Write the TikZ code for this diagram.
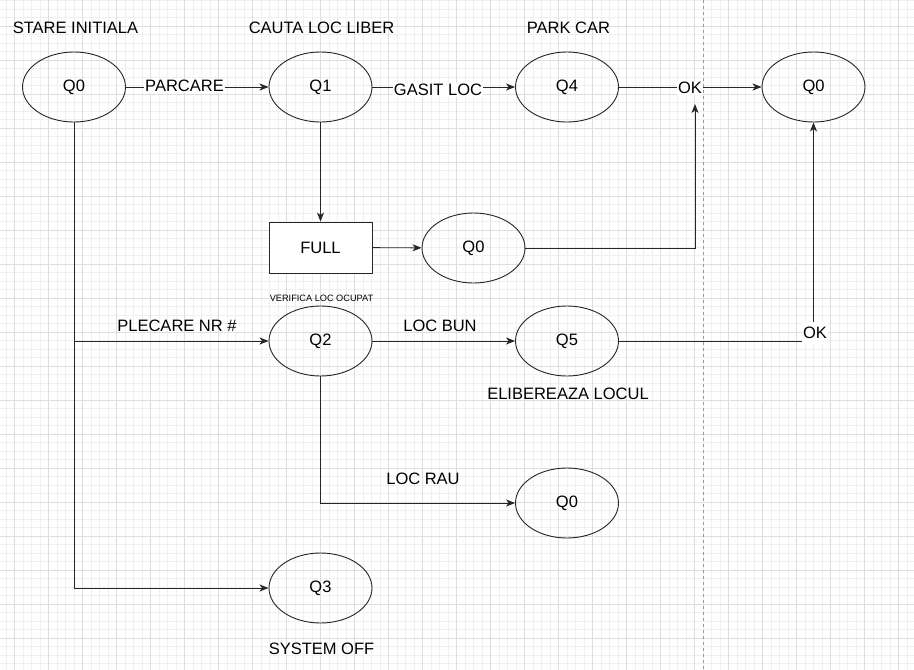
\documentclass[tikz,border=0pt]{standalone}
\usepackage{fontspec}
\setmainfont{Liberation Sans}
\usetikzlibrary{arrows.meta,shapes.geometric}
\begin{document}
\begin{tikzpicture}[x=1pt,y=-1pt,
  state/.style={draw=black!85,line width=0.9pt,ellipse,minimum width=103pt,minimum height=70pt,inner sep=0pt,font=\fontsize{16.5}{19}\selectfont},
  boxst/.style={draw=black!85,line width=0.9pt,rectangle,minimum width=103pt,minimum height=51pt,inner sep=0pt,fill=white,font=\fontsize{16.5}{19}\selectfont},
  lbl/.style={font=\fontsize{16.5}{19}\selectfont,text height=11.8pt,text depth=0pt,inner sep=1pt},
  wlbl/.style={lbl,fill=white},
  tiny/.style={font=\fontsize{9.2}{11}\selectfont,text height=6.6pt,text depth=0pt,inner sep=1pt},
  conn/.style={draw=black!85,line width=0.9pt},
  arr/.style={conn,-{Stealth[length=9pt,width=7pt,inset=2.5pt]}},
  minorg/.style={draw=black!6,line width=0.6pt},
  majorg/.style={draw=black!13,line width=0.8pt}]
\useasboundingbox (0,0) rectangle (914,670);
\fill[white] (0,0) rectangle (914,670);
% grid
\foreach \i in {0,...,106} {\draw[minorg] (6.2+8.5*\i,0) -- (6.2+8.5*\i,670);}
\foreach \i in {0,...,78} {\draw[minorg] (0,0.5+8.5*\i) -- (914,0.5+8.5*\i);}
\foreach \i in {0,...,26} {\draw[majorg] (14.7+34*\i,0) -- (14.7+34*\i,670);}
\foreach \i in {0,...,18} {\draw[majorg] (0,26+34*\i) -- (914,26+34*\i);}
\draw[black!40,line width=0.8pt,dash pattern=on 3pt off 3pt] (703.3,0) -- (703.3,670);

% states
\node[state] (q0a) at (74,87) {Q0};
\node[state] (q1) at (320.5,87) {Q1};
\node[state] (q4) at (567,87) {Q4};
\node[state] (q0r) at (813.5,87) {Q0};
\node[boxst] (full) at (320.5,247.5) {FULL};
\node[state] (q0m) at (473.5,248) {Q0};
\node[state] (q2) at (320.5,341) {Q2};
\node[state] (q5) at (567,341) {Q5};
\node[state] (q0b) at (567,503) {Q0};
\node[state] (q3) at (320.5,588) {Q3};

% titles
\node[lbl] (t0) at (75.5,28) {STARE INITIALA};
\node[lbl] (t1) at (321.5,28) {CAUTA LOC LIBER};
\node[lbl] (t4) at (568.5,28) {PARK CAR};
\node[tiny] (t2) at (321.5,298) {VERIFICA LOC OCUPAT};
\node[lbl] (t5) at (568,394) {ELIBEREAZA LOCUL};
\node[lbl] (t3) at (321.5,649) {SYSTEM OFF};

% coordinates
\coordinate (br) at (74,341);
\coordinate (okin) at (695,104);

% connectors
\draw[arr] (q0a) -- (q1);
\node[wlbl] (lpark) at (184.5,86) {PARCARE};
\draw[arr] (q1) -- (q4);
\node[wlbl] (lgasit) at (438,90) {GASIT LOC};
\draw[arr] (q4) -- (q0r);
\node[wlbl] (lok1) at (690,88) {OK};
\draw[arr] (q1) -- (full);
\draw[arr] (full) -- (q0m);
\draw[arr] (q0m.east) -| (okin);
\draw[arr] (q0a.south) |- (q3.west);
\draw[arr] (br) -- (q2.west);
\node[lbl] (lplec) at (177,326) {PLECARE NR \#};
\draw[arr] (q2) -- (q5);
\node[lbl] (lbun) at (440,326) {LOC BUN};
\draw[arr] (q2.south) |- (q0b.west);
\node[lbl] (lrau) at (423,479) {LOC RAU};
\draw[arr] (q5.east) -| (q0r.south);
\node[wlbl,inner xsep=1pt,inner ysep=5pt] (lok2) at (815,333) {OK};
\end{tikzpicture}
\end{document}
